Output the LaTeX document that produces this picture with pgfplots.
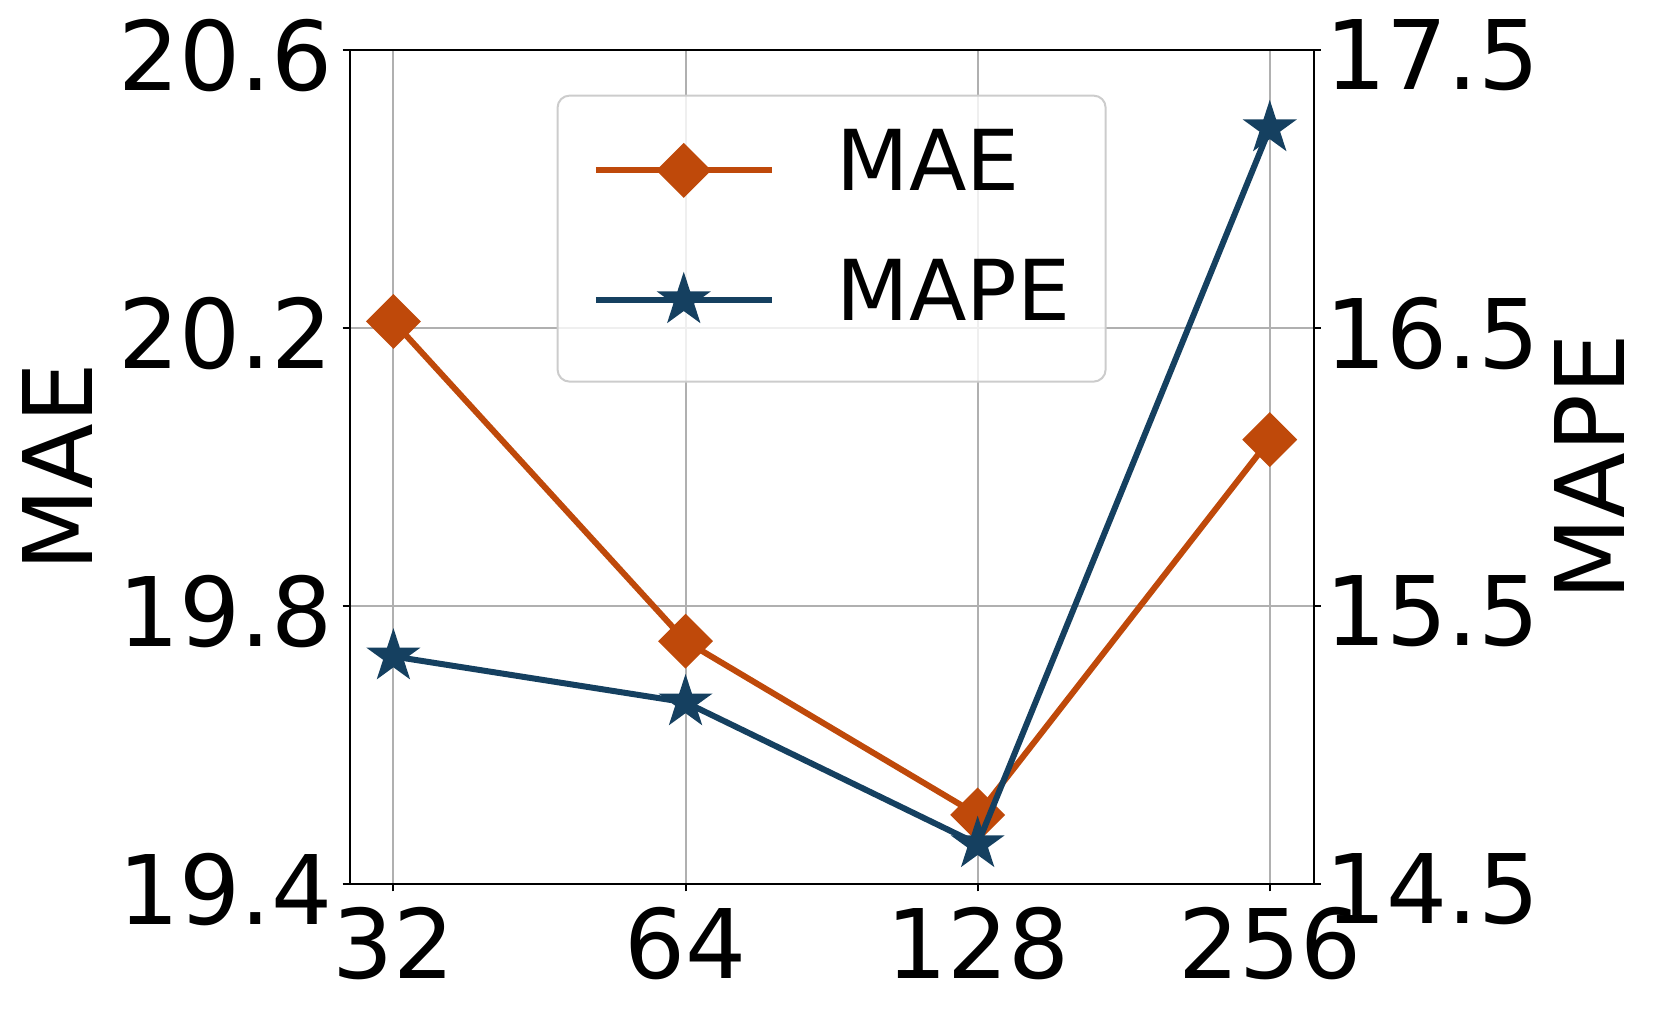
\documentclass[border=0pt]{standalone}
\usepackage{pgfplots}
\pgfplotsset{compat=1.18}
\usepackage{fontspec}
\setmainfont{DejaVu Sans}

\definecolor{maeorange}{RGB}{191,73,10}
\definecolor{mapeblue}{RGB}{21,64,96}
\definecolor{gridgray}{RGB}{176,176,176}
\definecolor{legframe}{RGB}{204,204,204}

% filled five-pointed star, inner radius as in matplotlib
\pgfdeclareplotmark{fstar}{%
  \pgfpathmoveto{\pgfpointpolar{90}{\pgfplotmarksize}}%
  \pgfpathlineto{\pgfpointpolar{126}{0.382\pgfplotmarksize}}%
  \pgfpathlineto{\pgfpointpolar{162}{\pgfplotmarksize}}%
  \pgfpathlineto{\pgfpointpolar{198}{0.382\pgfplotmarksize}}%
  \pgfpathlineto{\pgfpointpolar{234}{\pgfplotmarksize}}%
  \pgfpathlineto{\pgfpointpolar{270}{0.382\pgfplotmarksize}}%
  \pgfpathlineto{\pgfpointpolar{306}{\pgfplotmarksize}}%
  \pgfpathlineto{\pgfpointpolar{342}{0.382\pgfplotmarksize}}%
  \pgfpathlineto{\pgfpointpolar{18}{\pgfplotmarksize}}%
  \pgfpathlineto{\pgfpointpolar{54}{0.382\pgfplotmarksize}}%
  \pgfpathclose
  \pgfusepathqfillstroke
}

\pgfplotsset{
  twin/.style={
    scale only axis, width=241pt, height=208.5pt,
    xmin=-0.15, xmax=3.15,
    tick align=outside, major tick length=1.75pt,
    every tick/.style={black, line width=0.5pt},
    axis line style={line width=0.5pt},
    tick label style={font=\fontsize{24}{28}\selectfont, inner sep=0pt},
    /pgf/number format/assume math mode=true,
  },
  maestyle/.style={maeorange, line width=1.5pt, mark=square*, mark size=4.6pt,
    mark options={rotate=45, solid, fill=maeorange, line width=0.5pt, sharp corners}},
  mapestyle/.style={mapeblue, line width=1.5pt, mark=fstar, mark size=6.3pt,
    mark options={solid, fill=mapeblue, line width=0.5pt, sharp corners}},
}

\begin{document}
\begin{tikzpicture}
\begin{axis}[twin, name=ax1,
  xtick={0,1,2,3}, xticklabels={32,64,128,256}, xtick pos=bottom,
  xticklabel style={yshift=-3.65pt},
  ymin=19.4, ymax=20.6, ytick={19.4,19.8,20.2,20.6}, ytick pos=left,
  yticklabel style={/pgf/number format/fixed, /pgf/number format/fixed zerofill,
    /pgf/number format/precision=1, xshift=-2.35pt, yshift=-1.2pt},
  grid=major, grid style={gridgray, line width=0.5pt},
  ylabel={MAE},
  every axis y label/.style={at={(axis description cs:-0.3035,0.5)}, rotate=90,
    anchor=center, font=\fontsize{24}{28}\selectfont},
]
\addplot[maestyle] coordinates {(0,20.21) (1,19.75) (2,19.50) (3,20.04)};
\end{axis}

\begin{axis}[twin,
  axis x line=none, axis y line*=right,
  ymin=14.5, ymax=17.5, ytick={14.5,15.5,16.5,17.5},
  yticklabel style={/pgf/number format/fixed, /pgf/number format/fixed zerofill,
    /pgf/number format/precision=1, xshift=1.05pt, yshift=-1.2pt},
  ylabel={MAPE},
  every axis y label/.style={at={(axis description cs:1.2859,0.5)}, rotate=90,
    anchor=center, font=\fontsize{24}{28}\selectfont},
  legend image code/.code={%
    \draw[mark repeat=2, mark phase=2, sharp corners, opacity=1, #1]
      plot coordinates {(0pt,0pt) (22pt,0pt) (44pt,0pt)};
    \path[draw=none, fill=none] (22pt,-11.85pt) -- (22pt,6.75pt);
  },
  legend cell align=left,
  legend style={at={(0.5,0.947)}, anchor=north,
    draw=legframe, fill=white, fill opacity=0.8, draw opacity=1, text opacity=1,
    rounded corners=3pt, line width=0.5pt,
    inner xsep=8.8pt, inner ysep=8.5pt, row sep=10.4pt, column sep=15.5pt,
    font=\fontsize{21}{25}\selectfont,
    nodes={inner sep=0pt, text height=15.3pt, text depth=5.1pt}},
]
\addlegendimage{maestyle}
\addplot[mapestyle] coordinates {(0,15.32) (1,15.155) (2,14.645) (3,17.22)};
\legend{MAE,MAPE}
\end{axis}

\pgfresetboundingbox
\path (ax1.south west) ++(-87.4pt,-31.4pt) rectangle ++(415.25pt,252.5pt);
\end{tikzpicture}
\end{document}
